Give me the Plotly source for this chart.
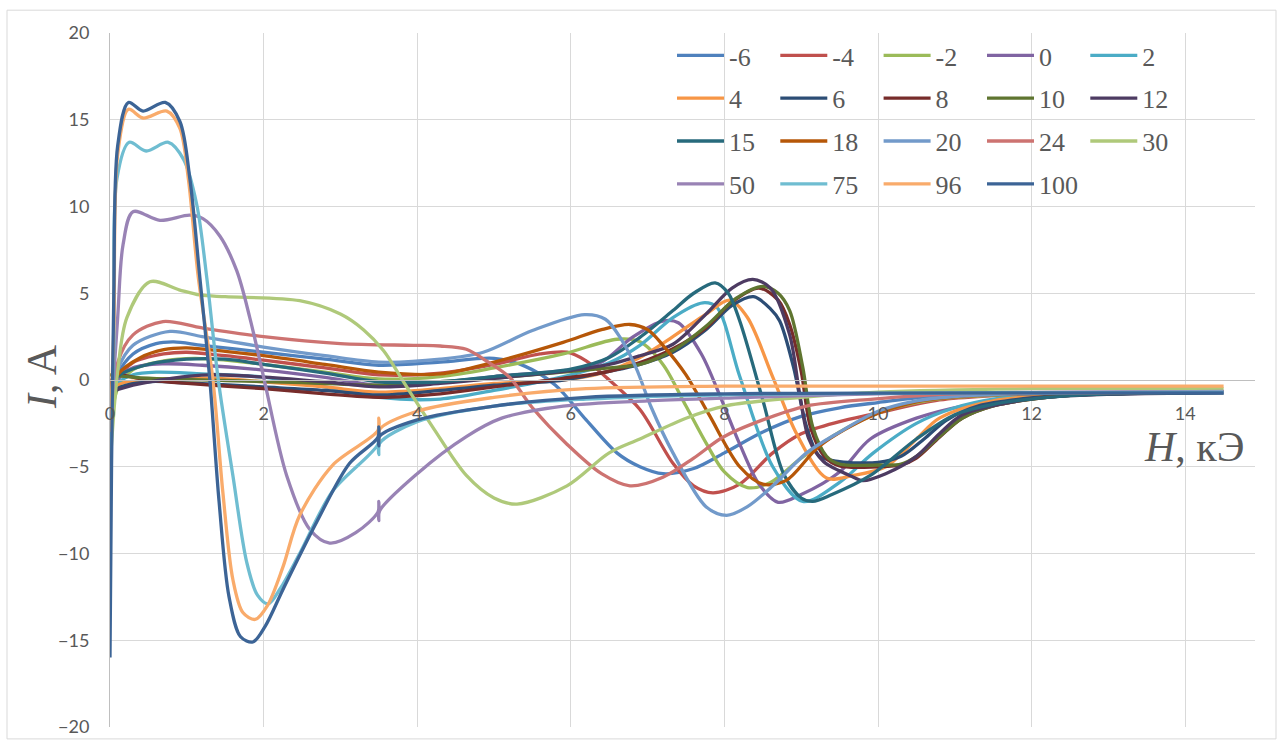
import plotly.graph_objects as go

# Field H (kOe) and current I (A) for each curve, keyed by its parameter value
series_names = ["-6", "-4", "-2", "0", "2", "4", "6", "8", "10", "12",
                "15", "18", "20", "24", "30", "50", "75", "96", "100"]

series_colors = ["#4F81BD", "#C0504D", "#9BBB59", "#8064A2", "#4BACC6", "#F79646",
                 "#2C4D75", "#772C2A", "#5F7530", "#4D3B62", "#276A7C", "#B65708",
                 "#729ACA", "#CD7371", "#AFC97A", "#9983B5", "#6FBDD1", "#F9AB6B",
                 "#3C6496"]

h_m6 = [0, 0.1, 0.3, 0.6, 0.83, 1.2, 2.0, 2.8, 3.5, 4.3, 5.0, 5.4, 5.8, 6.2, 6.6, 6.9, 7.2, 7.6, 8.0, 8.5, 9.0, 9.5, 10.0, 10.8, 12, 14.5]
i_m6 = [-2.0, 0.3, 1.5, 2.1, 2.2, 2.0, 1.6, 1.2, 0.85, 1.03, 1.25, 0.8, -0.3, -2.3, -4.2, -5.0, -5.4, -5.1, -4.2, -3.0, -2.1, -1.6, -1.3, -0.9, -0.75, -0.7]

h_m4 = [0, 0.1, 0.3, 0.7, 1.0, 1.5, 2.0, 2.8, 3.5, 4.3, 5.0, 5.6, 5.95, 6.2, 6.5, 6.9, 7.33, 7.6, 7.85, 8.2, 8.63, 9.0, 9.5, 9.9, 10.8, 11.5, 12.5, 14.5]
i_m4 = [-2.7, 0, 1.0, 1.5, 1.6, 1.4, 1.14, 0.7, 0.3, 0.4, 0.9, 1.5, 1.6, 1.1, 0, -1.7, -4.8, -6.1, -6.5, -6.0, -4.2, -3.1, -2.4, -2.0, -1.15, -0.9, -0.75, -0.7]

h_m2 = [0, 0.1, 0.3, 0.7, 1.1, 1.5, 2.0, 2.8, 3.5, 4.3, 5.0, 5.9, 6.6, 6.9, 7.2, 7.5, 7.77, 8.0, 8.3, 8.6, 9.0, 9.5, 10.0, 10.5, 11.0, 12.0, 14.5]
i_m2 = [-3.0, -0.5, 0.6, 1.1, 1.25, 1.15, 0.9, 0.45, 0.06, 0.2, 0.7, 1.5, 2.35, 2.2, 0.9, -1.5, -3.7, -5.3, -6.2, -5.9, -4.5, -3.0, -1.9, -1.3, -1.0, -0.8, -0.7]

h_0 = [0, 0.1, 0.3, 0.7, 1.2, 2.0, 2.8, 3.5, 4.3, 5.0, 6.0, 6.4, 6.8, 7.2, 7.4, 7.7, 7.95, 8.2, 8.45, 8.7, 9.0, 9.5, 9.9, 10.5, 11.1, 11.9, 13, 14.5]
i_0 = [-2.0, 0, 0.7, 0.93, 0.85, 0.57, 0.15, -0.3, -0.15, 0.2, 0.6, 1.03, 2.46, 3.4, 3.3, 1.5, -1.0, -3.7, -6.0, -7.05, -6.6, -5.3, -3.4, -2.2, -1.5, -1.0, -0.8, -0.7]

h_2 = [0, 0.1, 0.3, 0.6, 1.2, 2.0, 2.8, 3.5, 4.3, 5.0, 6.0, 6.5, 6.9, 7.33, 7.72, 7.9, 8.2, 8.63, 9.02, 9.5, 9.94, 10.5, 11.0, 11.5, 12.2, 14.5]
i_2 = [-1.5, -0.2, 0.3, 0.45, 0.35, 0.17, -0.4, -1.0, -1.1, -0.6, 0.3, 1.0, 2.0, 3.6, 4.45, 4.2, 0.2, -5.0, -7.0, -5.9, -4.2, -2.5, -1.6, -1.1, -0.85, -0.7]

h_4 = [0, 0.1, 0.5, 1.3, 2.0, 2.8, 3.5, 4.3, 5.0, 5.9, 6.4, 6.9, 7.33, 7.76, 8.07, 8.3, 8.63, 8.94, 9.33, 9.68, 10.1, 10.5, 10.8, 11.5, 12.5, 14.5]
i_4 = [-1.5, -0.3, 0, 0.1, -0.1, -0.4, -0.7, -0.5, -0.2, 0.0, 0.4, 1.3, 2.5, 3.8, 4.6, 3.6, 0.17, -3.1, -5.65, -5.5, -5.0, -3.4, -2.2, -1.2, -0.85, -0.7]

h_6 = [0, 0.1, 0.5, 1.0, 2.0, 2.8, 3.5, 4.3, 5.0, 5.9, 6.5, 6.9, 7.33, 7.76, 8.1, 8.38, 8.6, 8.72, 8.9, 9.07, 9.24, 9.5, 10.0, 10.3, 10.6, 10.9, 11.3, 12.2, 13, 14.5]
i_6 = [-1.5, -0.5, -0.1, -0.17, -0.4, -0.6, -0.86, -0.6, -0.3, 0.0, 0.5, 0.9, 1.6, 2.9, 4.3, 4.8, 4.1, 3.4, 0.74, -2.7, -4.4, -4.7, -4.75, -4.4, -3.4, -2.3, -1.5, -0.95, -0.8, -0.7]

h_8 = [0, 0.05, 0.5, 1.0, 2.0, 2.8, 3.5, 4.3, 5.0, 5.9, 6.5, 6.9, 7.33, 7.76, 8.1, 8.45, 8.7, 8.85, 9.0, 9.12, 9.3, 9.5, 10.0, 10.3, 10.5, 10.8, 11.1, 11.5, 12.2, 13, 14.5]
i_8 = [-1.0, 0.2, 0, -0.2, -0.5, -0.8, -1.0, -0.8, -0.4, 0.1, 0.5, 1.0, 1.8, 3.0, 4.5, 5.3, 4.6, 3.2, 0.5, -2.7, -4.4, -4.95, -5.0, -4.9, -4.5, -3.3, -2.2, -1.5, -1.0, -0.8, -0.7]

h_10 = [0, 0.5, 1.5, 2.5, 3.5, 4.3, 5.0, 5.9, 6.5, 6.9, 7.33, 7.76, 8.15, 8.5, 8.7, 8.85, 9.02, 9.15, 9.33, 9.5, 10.0, 10.3, 10.5, 10.8, 11.1, 11.5, 12.2, 12.9, 14.5]
i_10 = [0.3, 0.1, -0.03, -0.15, -0.3, -0.1, 0.1, 0.46, 0.7, 0.9, 1.7, 3.1, 4.7, 5.4, 5.0, 4.0, 0.74, -2.7, -4.4, -4.85, -4.9, -4.85, -4.4, -3.26, -2.2, -1.5, -1.0, -0.8, -0.72]

h_12 = [0, 0.3, 0.8, 1.3, 2.0, 2.8, 3.5, 4.3, 5.0, 5.9, 6.5, 6.9, 7.33, 7.76, 8.1, 8.37, 8.6, 8.85, 8.98, 9.1, 9.29, 9.68, 9.8, 10.1, 10.5, 10.8, 11.1, 11.9, 12.5, 14.5]
i_12 = [-0.7, -0.3, 0.1, 0.3, 0.17, -0.1, -0.4, -0.2, 0.1, 0.5, 0.9, 1.4, 2.06, 3.8, 5.3, 5.8, 5.3, 2.6, -0.8, -3.4, -4.7, -5.6, -5.8, -5.4, -4.4, -3.1, -2.0, -1.15, -0.9, -0.72]

h_15 = [0, 0.1, 0.5, 1.0, 1.5, 2.0, 2.8, 3.5, 4.3, 5.0, 6.0, 6.5, 6.9, 7.33, 7.6, 7.88, 8.05, 8.2, 8.5, 8.77, 9.0, 9.15, 9.4, 9.9, 10.5, 11.0, 11.5, 12.2, 13, 14.5]
i_15 = [-1.0, 0.2, 0.9, 1.2, 1.2, 0.9, 0.4, -0.1, -0.1, 0.2, 0.63, 1.3, 2.46, 4.0, 5.0, 5.6, 5.0, 3.4, -1.15, -5.4, -6.8, -7.0, -6.6, -5.5, -3.4, -2.0, -1.4, -1.0, -0.8, -0.72]

h_18 = [0, 0.1, 0.4, 0.7, 1.0, 1.5, 2.0, 2.8, 3.5, 4.3, 5.0, 5.9, 6.4, 6.77, 7.0, 7.2, 7.5, 7.8, 8.2, 8.5, 8.8, 9.24, 9.9, 10.5, 11.1, 12, 14.5]
i_18 = [-1.2, 0.3, 1.3, 1.75, 1.85, 1.65, 1.4, 0.9, 0.45, 0.35, 1.03, 2.17, 2.9, 3.2, 2.9, 2.0, 0.3, -2.0, -5.0, -6.0, -5.8, -3.8, -2.1, -1.26, -0.95, -0.8, -0.7]

h_20 = [0, 0.1, 0.3, 0.78, 1.2, 2.0, 2.8, 3.5, 4.3, 4.86, 5.5, 6.18, 6.45, 6.65, 6.85, 7.05, 7.33, 7.76, 8.03, 8.3, 8.63, 9.07, 9.5, 10.0, 10.5, 11.0, 12, 14.5]
i_20 = [-1.5, 0.6, 2.0, 2.8, 2.5, 1.9, 1.4, 1.03, 1.2, 1.6, 2.85, 3.77, 3.5, 2.4, 0.7, -1.6, -4.2, -7.3, -7.8, -7.3, -6.1, -4.2, -3.0, -1.8, -1.2, -0.95, -0.78, -0.7]

h_24 = [0, 0.1, 0.3, 0.69, 1.2, 2.0, 3.0, 3.95, 4.3, 4.64, 4.9, 5.2, 5.5, 5.95, 6.4, 6.77, 7.2, 7.6, 7.98, 8.5, 9.07, 9.94, 11, 14.5]
i_24 = [-3.0, 1.0, 2.6, 3.37, 3.0, 2.5, 2.1, 2.0, 1.96, 1.77, 1.1, 0.17, -1.6, -3.7, -5.4, -6.1, -5.6, -4.5, -3.3, -2.3, -1.5, -1.1, -0.8, -0.7]

h_30 = [0, 0.1, 0.22, 0.52, 0.9, 1.17, 1.5, 2.47, 3.0, 3.3, 3.56, 3.78, 3.95, 4.2, 4.64, 5.0, 5.3, 5.95, 6.5, 6.9, 7.5, 8.0, 9.0, 10, 12, 14.5]
i_30 = [-5.0, 0.5, 3.6, 5.66, 5.2, 4.9, 4.8, 4.57, 3.8, 2.9, 1.7, 0.2, -1.0, -2.7, -5.5, -6.8, -7.15, -6.1, -4.2, -3.4, -2.2, -1.5, -1.0, -0.7, -0.5, -0.5]

h_50 = [0, 0.1, 0.17, 0.3, 0.65, 1.04, 1.21, 1.43, 1.65, 1.82, 2.0, 2.3, 2.6, 2.86, 3.2, 3.49, 3.5, 3.5, 3.51, 4.0, 4.64, 5.1, 5.9, 7, 8, 10, 14.5]
i_50 = [-3.0, 3.6, 7.8, 9.7, 9.2, 9.5, 9.3, 8.3, 6.3, 3.6, 0.17, -5.5, -8.6, -9.4, -8.8, -7.6, -7.0, -8.1, -7.55, -5.4, -3.26, -2.2, -1.5, -1.2, -1.05, -0.8, -0.65]

h_75 = [0, 0.05, 0.09, 0.25, 0.47, 0.76, 0.96, 1.13, 1.26, 1.41, 1.6, 1.78, 1.92, 2.06, 2.22, 2.47, 2.9, 3.49, 3.5, 3.5, 3.51, 4.0, 5.0, 6.2, 8, 14.5]
i_75 = [-4.0, 2.0, 11.6, 13.7, 13.2, 13.7, 12.7, 10.1, 5.9, 0, -5.5, -10.5, -12.4, -12.9, -12.0, -10.0, -6.4, -3.7, -3.0, -4.3, -3.65, -2.4, -1.5, -1.1, -0.85, -0.7]

h_96 = [0, 0.05, 0.1, 0.24, 0.43, 0.74, 0.91, 1.02, 1.15, 1.34, 1.47, 1.6, 1.73, 1.89, 2.05, 2.25, 2.47, 2.9, 3.49, 3.5, 3.5, 3.51, 4.0, 5.0, 6.2, 8, 14.5]
i_96 = [-3.0, 3.0, 13.0, 15.6, 15.1, 15.5, 14.5, 11.6, 5.9, 0, -6.5, -11.5, -13.4, -13.8, -13.0, -10.8, -7.8, -4.9, -2.9, -2.2, -3.5, -2.85, -1.8, -1.0, -0.5, -0.35, -0.35]

h_100 = [0, 0.02, 0.05, 0.1, 0.24, 0.43, 0.72, 0.91, 1.04, 1.17, 1.3, 1.42, 1.55, 1.7, 1.86, 2.02, 2.26, 2.69, 3.12, 3.49, 3.5, 3.5, 3.51, 4.0, 5.0, 6.2, 8, 14.5]
i_100 = [-16.0, -5.0, 5.0, 13.5, 16.0, 15.5, 16.0, 14.9, 11.6, 5.9, 0, -7.0, -12.5, -14.8, -15.1, -14.2, -12.0, -8.2, -4.8, -3.3, -2.7, -3.8, -3.25, -2.3, -1.5, -1.0, -0.8, -0.75]

h_data = [h_m6, h_m4, h_m2, h_0, h_2, h_4, h_6, h_8, h_10, h_12,
          h_15, h_18, h_20, h_24, h_30, h_50, h_75, h_96, h_100]
i_data = [i_m6, i_m4, i_m2, i_0, i_2, i_4, i_6, i_8, i_10, i_12,
          i_15, i_18, i_20, i_24, i_30, i_50, i_75, i_96, i_100]

x_ticks = [0, 2, 4, 6, 8, 10, 12, 14]
y_ticks = [-20, -15, -10, -5, 0, 5, 10, 15, 20]

W, H = 1283, 749
L, R, T, B = 110, 28, 33, 16
pw, ph = W - L - R, H - T - B

def px_x(p):
    return (p - L) / pw

def px_y(p):
    return (H - B - p) / ph

grey = "#595959"
fig = go.Figure()

# legend laid out as five columns, one legend per column
legend_ids = ["legend", "legend2", "legend3", "legend4", "legend5"]
for k, (name, color, hx, iy) in enumerate(zip(series_names, series_colors, h_data, i_data)):
    fig.add_trace(go.Scatter(
        x=hx, y=iy, name=name, mode="lines",
        line=dict(color=color, width=3.3, shape="spline", smoothing=0.9),
        legend=legend_ids[k % 5], legendgroup=name,
        hoverinfo="x+y+name",
    ))

legend_font = dict(family="Liberation Serif", size=26, color=grey)
col_left = [672, 775.3, 878.6, 982, 1085.3]
legend_layouts = {}
for c, lid in enumerate(legend_ids):
    legend_layouts[lid] = dict(
        x=px_x(col_left[c]), xanchor="left",
        y=px_y(32), yanchor="top",
        bgcolor="rgba(0,0,0,0)", borderwidth=0,
        font=legend_font, itemwidth=47, tracegroupgap=6,
        orientation="v",
    )

fig.update_layout(
    width=W, height=H,
    margin=dict(l=L, r=R, t=T, b=B),
    paper_bgcolor="white", plot_bgcolor="white",
    showlegend=True,
    xaxis=dict(
        range=[0, (1255 - L) / 76.8], tickvals=x_ticks,
        showgrid=True, gridcolor="#D9D9D9", gridwidth=1,
        zeroline=False, showline=True, linecolor="#BFBFBF", linewidth=1,
        anchor="free", position=0.5, ticks="",
        tickfont=dict(family="Lato", size=18, color=grey),
        ticklabelstandoff=17,
    ),
    yaxis=dict(
        range=[-20, 20], tickvals=y_ticks,
        showgrid=True, gridcolor="#D9D9D9", gridwidth=1,
        zeroline=False, showline=True, linecolor="#BFBFBF", linewidth=1,
        ticks="", tickfont=dict(family="Lato", size=18, color=grey),
        ticklabelstandoff=16,
    ),
    annotations=[
        dict(text="<i>I</i>, A", xref="paper", yref="paper",
             x=px_x(42), y=px_y(380), xanchor="center", yanchor="middle",
             textangle=-90, showarrow=False,
             font=dict(family="Liberation Serif", size=42, color=grey)),
        dict(text="<i>H</i>, кЭ", xref="paper", yref="paper",
             x=px_x(1194), y=px_y(451), xanchor="center", yanchor="middle",
             showarrow=False,
             font=dict(family="Liberation Serif", size=42, color=grey)),
    ],
    shapes=[dict(type="rect", xref="paper", yref="paper",
                 x0=px_x(7), x1=px_x(1276), y0=px_y(745), y1=px_y(10),
                 line=dict(color="#D9D9D9", width=1), layer="below")],
    **legend_layouts,
)

fig.write_html("out.html")
